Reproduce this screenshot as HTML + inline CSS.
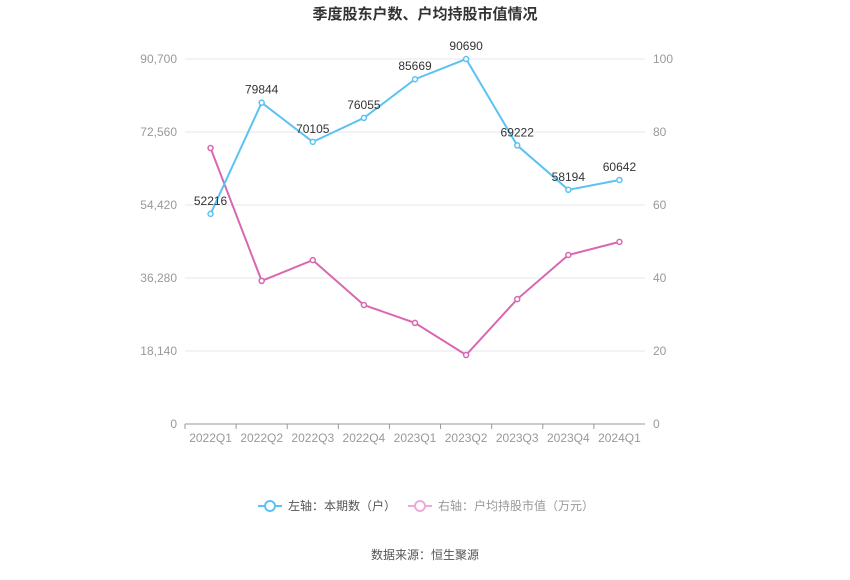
<!DOCTYPE html>
<html><head><meta charset="utf-8"><style>
body{margin:0;background:#fff;}
svg text{font-family:"Liberation Sans","Noto Sans CJK SC",sans-serif;}
</style></head><body>
<svg id="c" width="850" height="575" xmlns="http://www.w3.org/2000/svg">
<text x="425" y="19" text-anchor="middle" font-size="15" font-weight="bold" fill="#333">季度股东户数、户均持股市值情况</text>
<g id="grid"></g><g id="axes"></g><g id="series"></g>
<g>
<g>
<line x1="258" y1="506" x2="282" y2="506" stroke="#5bc2f4" stroke-width="2"/>
<circle cx="270" cy="506" r="5" fill="#fff" stroke="#5bc2f4" stroke-width="2"/>
<text x="288" y="510" font-size="12" fill="#555">左轴：本期数（户）</text></g>
<g>
<line x1="408" y1="506" x2="432" y2="506" stroke="#eeaad6" stroke-width="2"/>
<circle cx="420" cy="506" r="5" fill="#fff" stroke="#eeaad6" stroke-width="2"/>
<text x="438" y="510" font-size="12" fill="#999">右轴：户均持股市值（万元）</text></g>
</g>
<text x="425" y="559" text-anchor="middle" font-size="12" fill="#555">数据来源：恒生聚源</text>
</svg>
<script>
const categories=["2022Q1","2022Q2","2022Q3","2022Q4","2023Q1","2023Q2","2023Q3","2023Q4","2024Q1"];
const holders=[52216,79844,70105,76055,85669,90690,69222,58194,60642];
const avgValue=[75.6,39.2,44.9,32.6,27.7,18.9,34.2,46.3,49.9];
const leftTicks=[0,18140,36280,54420,72560,90700];
const rightTicks=[0,20,40,60,80,100];
const NS="http://www.w3.org/2000/svg";
const L=185,R=645,T=59,B=424;
const x=i=>L+(R-L)/categories.length*(i+0.5);
const yl=v=>B-(v/90700)*(B-T);
const yr=v=>B-(v/100)*(B-T);
function mk(tag,attrs,parent,txt){const e=document.createElementNS(NS,tag);for(const k in attrs)e.setAttribute(k,attrs[k]);if(txt!==undefined)e.textContent=txt;parent.appendChild(e);return e;}
const grid=document.getElementById('grid'),axes=document.getElementById('axes'),ser=document.getElementById('series');
leftTicks.forEach((t,i)=>{
 const yy=yl(t);
 const g=mk('line',{x1:L,x2:R,y1:yy,y2:yy,stroke:i==0?'#999':'#e3e7ef','stroke-width':1},grid);
 
 
 const a=mk('text',{x:177,y:yy+4,'text-anchor':'end','font-size':12,fill:'#999'},axes,t.toLocaleString('en-US'));
 
 
});
rightTicks.forEach(t=>{
 const b=mk('text',{x:653,y:yr(t)+4,'font-size':12,fill:'#999'},axes,String(t));
 
 
});
categories.forEach((c,i)=>{
 const e=mk('text',{x:x(i),y:442,'text-anchor':'middle','font-size':12,fill:'#999'},axes,c);
 
 
 const tk=mk('line',{x1:L+(R-L)/categories.length*i,x2:L+(R-L)/categories.length*i,y1:B,y2:B+5,stroke:'#999'},axes);
 
 
});
function line(vals,yf,color,name,labels){
 const p=mk('polyline',{points:vals.map((v,i)=>x(i)+','+yf(v)).join(' '),fill:'none',stroke:color,'stroke-width':2},ser);
 
 
 vals.forEach((v,i)=>{
  const c=mk('circle',{cx:x(i),cy:yf(v),r:2.5,fill:'#fff',stroke:color,'stroke-width':1.5},ser);
  
  
  if(labels){
   const t=mk('text',{x:x(i),y:yf(v)-9,'text-anchor':'middle','font-size':12,fill:'#333'},ser,String(v));
   
   
  }
 });
}
line(avgValue,yr,'#d966b0','avg-value',false);
line(holders,yl,'#5bc2f4','holders',true);
</script>
</body></html>
